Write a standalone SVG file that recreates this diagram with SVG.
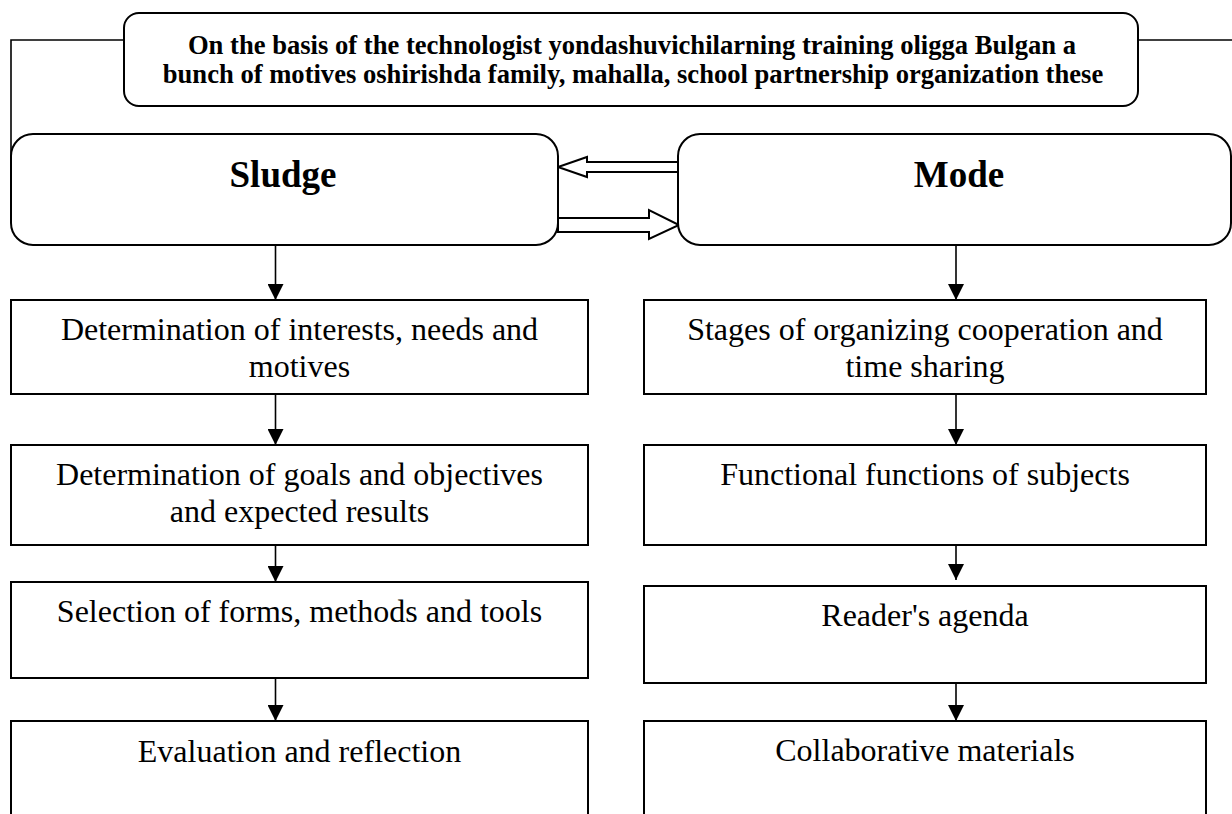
<svg xmlns="http://www.w3.org/2000/svg" width="1232" height="814" viewBox="0 0 1232 814">
  <style>
    .rbox { fill: #fff; stroke: #000; stroke-width: 2; }
    .box { fill: #fff; stroke: #000; stroke-width: 2; }
    .line { fill: none; stroke: #000; stroke-width: 1.6; }
    .block { fill: #fff; stroke: #000; stroke-width: 2; stroke-linejoin: miter; }
    .title { font-family: "Liberation Serif", "Times New Roman", serif; font-weight: bold; font-size: 26.6px; text-anchor: middle; fill: #000; }
    .head { font-family: "Liberation Serif", "Times New Roman", serif; font-weight: bold; font-size: 37px; text-anchor: middle; fill: #000; }
    .label { font-family: "Liberation Serif", "Times New Roman", serif; font-size: 32px; text-anchor: middle; fill: #000; }
  </style>
  <defs>
    <marker id="tri" viewBox="0 0 16 16" refX="16" refY="8" markerWidth="16" markerHeight="16" markerUnits="userSpaceOnUse" orient="auto">
      <path d="M0,0 L16,8 L0,16 Z" fill="#000"/>
    </marker>
  </defs>

  <rect width="1232" height="814" fill="#fff"/>

  <!-- connectors -->
  <g id="connectors">
    <polyline class="line" points="124,40 11,40 11,157"/>
    <line class="line" x1="1138" y1="40" x2="1232" y2="40"/>
    <!-- hollow block arrows between Sludge and Mode -->
    <polygon class="block" points="679,162 587,162 587,157 558,167 587,177 587,172 679,172"/>
    <polygon class="block" points="558,218 649,218 649,210 679,225 649,239 649,232 558,232"/>
    <!-- left column -->
    <line class="line" x1="275.5" y1="245" x2="275.5" y2="300" marker-end="url(#tri)"/>
    <line class="line" x1="275.5" y1="394" x2="275.5" y2="445" marker-end="url(#tri)"/>
    <line class="line" x1="275.5" y1="545" x2="275.5" y2="582" marker-end="url(#tri)"/>
    <line class="line" x1="275.5" y1="678" x2="275.5" y2="721" marker-end="url(#tri)"/>
    <!-- right column -->
    <line class="line" x1="956" y1="245" x2="956" y2="300" marker-end="url(#tri)"/>
    <line class="line" x1="956" y1="394" x2="956" y2="445" marker-end="url(#tri)"/>
    <line class="line" x1="956" y1="545" x2="956" y2="580" marker-end="url(#tri)"/>
    <line class="line" x1="956" y1="678" x2="956" y2="721" marker-end="url(#tri)"/>
  </g>

  <g id="top">
    <rect class="rbox" x="124" y="13" width="1014" height="93" rx="15"/>
    <text class="title" x="632" y="54">On the basis of the technologist yondashuvichilarning training oligga Bulgan a</text>
    <text class="title" x="633" y="83">bunch of motives oshirishda family, mahalla, school partnership organization these</text>
  </g>

  <g id="sludge">
    <rect class="rbox" x="11" y="134" width="547" height="111" rx="22"/>
    <text class="head" x="283" y="187">Sludge</text>
  </g>

  <g id="mode">
    <rect class="rbox" x="678" y="134" width="553" height="111" rx="22"/>
    <text class="head" x="959" y="187">Mode</text>
  </g>

  <g id="interests">
    <rect class="box" x="11" y="300" width="577" height="94"/>
    <text class="label" x="299.5" y="340">Determination of interests, needs and</text>
    <text class="label" x="299.5" y="377">motives</text>
  </g>

  <g id="goals">
    <rect class="box" x="11" y="445" width="577" height="100"/>
    <text class="label" x="299.5" y="485">Determination of goals and objectives</text>
    <text class="label" x="299.5" y="522">and expected results</text>
  </g>

  <g id="selection">
    <rect class="box" x="11" y="582" width="577" height="96"/>
    <text class="label" x="299.5" y="622">Selection of forms, methods and tools</text>
  </g>

  <g id="evaluation">
    <rect class="box" x="11" y="721" width="577" height="110"/>
    <text class="label" x="299.5" y="762">Evaluation and reflection</text>
  </g>

  <g id="stages">
    <rect class="box" x="644" y="300" width="562" height="94"/>
    <text class="label" x="925" y="340">Stages of organizing cooperation and</text>
    <text class="label" x="925" y="377">time sharing</text>
  </g>

  <g id="functions">
    <rect class="box" x="644" y="445" width="562" height="100"/>
    <text class="label" x="925" y="485">Functional functions of subjects</text>
  </g>

  <g id="agenda">
    <rect class="box" x="644" y="586" width="562" height="97"/>
    <text class="label" x="925" y="626">Reader's agenda</text>
  </g>

  <g id="materials">
    <rect class="box" x="644" y="721" width="562" height="110"/>
    <text class="label" x="925" y="761">Collaborative materials</text>
  </g>
</svg>
